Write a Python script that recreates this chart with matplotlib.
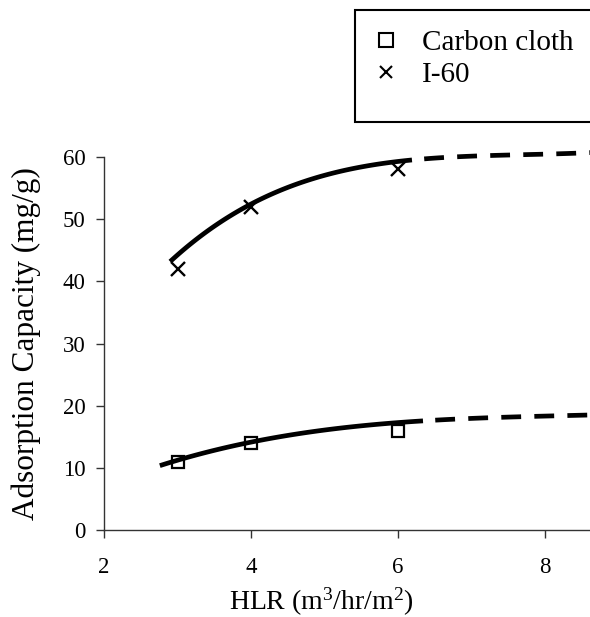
import matplotlib
matplotlib.use("Agg")
import numpy as np
import matplotlib.pyplot as plt
from matplotlib.patches import Rectangle
from matplotlib.lines import Line2D

plt.rcParams['font.family'] = ['Liberation Serif', 'DejaVu Serif']
plt.rcParams['mathtext.fontset'] = 'custom'
plt.rcParams['mathtext.rm'] = 'Liberation Serif'
plt.rcParams['mathtext.it'] = 'Liberation Serif:italic'

# measured data
hlr = [3, 4, 6]
carbon_cloth = [11, 14, 16]
i60 = [42, 52, 58]

# trend curves (solid part, then extrapolated dashed part)
i60_fit_x = [2.90, 3.22, 3.67, 4.00, 4.35, 4.80, 5.26, 5.71, 6.19]
i60_fit_y = [43.2, 46.4, 50.1, 52.5, 54.4, 56.4, 57.8, 58.7, 59.6]
i60_ext_x = [6.44, 7.25, 8.07, 8.62]
i60_ext_y = [59.8, 60.2, 60.5, 60.7]
cc_fit_x = [2.76, 3.31, 4.00, 4.53, 5.21, 5.89, 6.34]
cc_fit_y = [10.6, 11.8, 14.2, 15.4, 16.4, 17.2, 17.6]
cc_ext_x = [6.52, 7.43, 8.16, 8.62]
cc_ext_y = [17.7, 18.0, 18.3, 18.6]

xticks = [2, 4, 6, 8]
yticks = [0, 10, 20, 30, 40, 50, 60]

fig = plt.figure(figsize=(5.9, 6.17), dpi=100)
ax = fig.add_axes([104/590, 1-530/617, 1-104/590, 373/617])


def trend(xs_solid, ys_solid, xs_ext, ys_ext, deg):
    # smooth trend line fitted through the points
    coef = np.polyfit(xs_solid + xs_ext, ys_solid + ys_ext, deg)
    xa = np.linspace(xs_solid[0], xs_solid[-1], 100)
    xb = np.linspace(xs_solid[-1], xs_ext[-1], 100)
    return xa, np.polyval(coef, xa), xb, np.polyval(coef, xb)


lw = 3.4
dash = (4.4, (4.2, 2.8))
for args, deg in [((i60_fit_x, i60_fit_y, i60_ext_x, i60_ext_y), 4),
                  ((cc_fit_x, cc_fit_y, cc_ext_x, cc_ext_y), 3)]:
    xa, ya, xb, yb = trend(*args, deg)
    ax.plot(xa, ya, color='black', lw=lw, solid_capstyle='butt', clip_on=False)
    ax.plot(xb, yb, color='black', lw=lw, ls=dash, dash_capstyle='butt', clip_on=False)

ax.plot(hlr, carbon_cloth, ls='none', marker='s', ms=9, mfc='none', mec='black', mew=1.6, clip_on=False)
ax.plot(hlr, i60, ls='none', marker='x', ms=10.5, mec='black', mew=1.7, clip_on=False)

ax.set_xlim(2, 2 + 486/73.5)
ax.set_ylim(0, 60)
ax.set_xticks(xticks)
ax.set_yticks(yticks)
for s in ['top', 'right']:
    ax.spines[s].set_visible(False)
for s in ['left', 'bottom']:
    ax.spines[s].set_color('#333333')
    ax.spines[s].set_linewidth(1.0)
ax.tick_params(direction='out', length=5.5, width=1.0, color='#333333', labelsize=16.5)
ax.tick_params(axis='x', pad=14)
ax.tick_params(axis='y', pad=8)

ax.set_xlabel(r'HLR (m$^3$/hr/m$^2$)', fontsize=20)
ax.xaxis.set_label_coords((321 - 104) / 486, -(610 - 530) / 373, transform=ax.transAxes)
ax.xaxis.label.set_va('baseline')
ax.set_ylabel('Adsorption Capacity (mg/g)', fontsize=22.5)
ax.yaxis.set_label_coords(-(104 - 41) / 486, (530 - 344) / 373, transform=ax.transAxes)
ax.yaxis.label.set_va('bottom')

# legend box
fig.patches.append(Rectangle((355/590, 1-122/617), 1.0, 112/617, transform=fig.transFigure,
                             facecolor='white', edgecolor='black', lw=1.5, zorder=5))
handles = [Line2D([], [], ls='none', marker='s', ms=10, mfc='none', mec='black', mew=1.5),
           Line2D([], [], ls='none', marker='x', ms=8.5, mec='black', mew=1.5)]
leg = fig.legend(handles, ['Carbon cloth', 'I-60'], loc='upper left',
                 bbox_to_anchor=(357/590, 1-15/617), frameon=False, fontsize=21,
                 handletextpad=0.73, labelspacing=0.2, borderpad=0, handlelength=1.0)
leg.set_zorder(6)

fig.savefig('out.png', dpi=100)
